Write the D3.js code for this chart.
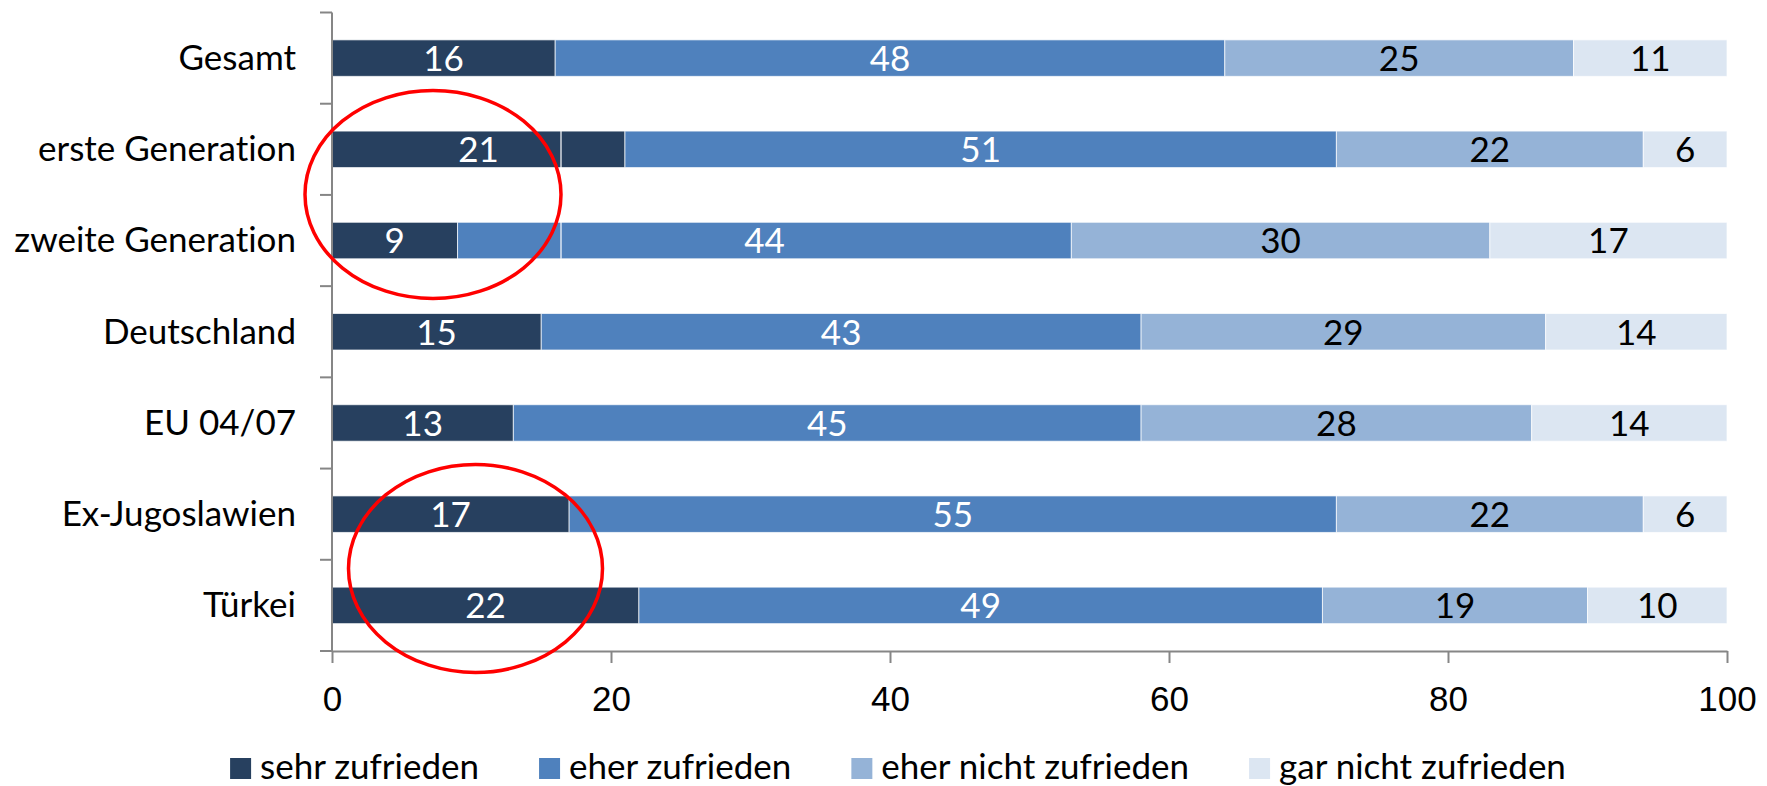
<!doctype html>
<html lang="de">
	<head>
		<meta charset="utf-8" />
		<title>Zufriedenheit nach Generation und Herkunft</title>
		<script src="https://cdn.jsdelivr.net/npm/d3@7"></script>
		<style>
			html,
			body {
				margin: 0;
				padding: 0;
				background: #fff;
			}
			svg {
				display: block;
				font-family: Lato, "Open Sans", sans-serif;
				font-variant-ligatures: none;
			}
		</style>
	</head>
	<body>
		<div id="chart"></div>
		<script>
			// data (Deutschland adds up to 101, the bar is cut at 100 like in the original)
			const categories = ["Gesamt", "erste Generation", "zweite Generation", "Deutschland", "EU 04/07", "Ex-Jugoslawien", "Türkei"];
			const seriesNames = ["sehr zufrieden", "eher zufrieden", "eher nicht zufrieden", "gar nicht zufrieden"];
			const sehrZufrieden = [16, 21, 9, 15, 13, 17, 22];
			const eherZufrieden = [48, 51, 44, 43, 45, 55, 49];
			const eherNichtZufrieden = [25, 22, 30, 29, 28, 22, 19];
			const garNichtZufrieden = [11, 6, 17, 14, 14, 6, 10];
			const xTicks = [0, 20, 40, 60, 80, 100];

			const COLORS = ["#27405f", "#4f81bd", "#95b3d7", "#dce6f2"];
			const LABEL_COLORS = ["#fff", "#fff", "#000", "#000"];

			const WIDTH = 1767;
			const HEIGHT = 786;
			const MARGIN = { LEFT: 332, RIGHT: 40, TOP: 12.5, BOTTOM: 135 };
			const FONT_SIZE = 35;
			const AXIS_COLOR = "#868686";
			const X_MAX = 100;

			const seriesValues = [sehrZufrieden, eherZufrieden, eherNichtZufrieden, garNichtZufrieden];
			const rows = categories.map((cat, i) => {
				const row = { category: cat };
				seriesNames.forEach((name, j) => (row[name] = seriesValues[j][i]));
				return row;
			});
			const stacked = d3.stack().keys(seriesNames)(rows);

			const x = d3
				.scaleLinear()
				.domain([0, X_MAX])
				.range([MARGIN.LEFT, WIDTH - MARGIN.RIGHT]);
			const y = d3
				.scaleBand()
				.domain(categories)
				.range([MARGIN.TOP, HEIGHT - MARGIN.BOTTOM])
				.paddingInner(0.6)
				.paddingOuter(0.3);
			const clampX = (v) => x(Math.min(v, X_MAX));

			const svg = d3.select("#chart").append("svg").attr("width", WIDTH).attr("height", HEIGHT);

			// bars (cut at the axis maximum)
			const layer = svg
				.append("g")
				.selectAll("g")
				.data(stacked)
				.join("g")
				.attr("fill", (d, i) => COLORS[i]);
			layer
				.selectAll("rect")
				.data((d) => d)
				.join("rect")
				.attr("x", (d) => clampX(d[0]))
				.attr("y", (d) => y(d.data.category))
				.attr("width", (d) => clampX(d[1]) - clampX(d[0]))
				.attr("height", y.bandwidth())
				.attr("stroke", "#fff")
				.attr("stroke-opacity", 0.7)
				.attr("stroke-width", 1);

			// value labels, centred in the visible part of each segment
			layer
				.selectAll("text")
				.data((d, i) => d.map((p) => ({ p, i })))
				.join("text")
				.attr("x", ({ p }) => (clampX(p[0]) + clampX(p[1])) / 2)
				.attr("y", ({ p }) => y(p.data.category) + y.bandwidth() / 2)
				.attr("dy", "0.37em")
				.attr("text-anchor", "middle")
				.attr("font-size", FONT_SIZE)
				.attr("fill", ({ i }) => LABEL_COLORS[i])
				.text(({ p }) => p[1] - p[0]);

			// y axis: line with ticks between the categories, labels on the side
			const yAxis = svg.append("g");
			const [y0, y1] = y.range();
			yAxis.append("line").attr("x1", x(0)).attr("x2", x(0)).attr("y1", y0).attr("y2", y1).attr("stroke", AXIS_COLOR).attr("stroke-width", 2);
			yAxis
				.selectAll("line.tick")
				.data(d3.range(categories.length + 1))
				.join("line")
				.attr("class", "tick")
				.attr("x1", x(0) - 12)
				.attr("x2", x(0))
				.attr("y1", (i) => y0 + i * y.step())
				.attr("y2", (i) => y0 + i * y.step())
				.attr("stroke", AXIS_COLOR)
				.attr("stroke-width", 2);
			yAxis
				.selectAll("text")
				.data(categories)
				.join("text")
				.attr("x", x(0) - 36)
				.attr("y", (d) => y(d) + y.bandwidth() / 2)
				.attr("dy", "0.34em")
				.attr("text-anchor", "end")
				.attr("font-size", FONT_SIZE)
				.attr("fill", "#000")
				.text((d) => d);

			// x axis
			const xAxis = svg
				.append("g")
				.attr("transform", `translate(0,${y1})`)
				.call(d3.axisBottom(x).tickValues(xTicks).tickSize(12).tickSizeOuter(0).tickPadding(23));
			xAxis.selectAll("path, line").attr("stroke", AXIS_COLOR).attr("stroke-width", 2);
			xAxis.selectAll("text").attr("font-size", FONT_SIZE).attr("font-family", null).attr("fill", "#000");

			// legend, centred under the chart
			const legend = svg.append("g").attr("transform", "translate(0,779)");
			const items = legend.selectAll("g").data(seriesNames).join("g");
			items
				.append("rect")
				.attr("y", -21)
				.attr("width", 21)
				.attr("height", 21)
				.attr("fill", (d, i) => COLORS[i]);
			items
				.append("text")
				.attr("x", 30)
				.attr("font-size", FONT_SIZE)
				.attr("fill", "#000")
				.text((d) => d);
			const widths = [];
			items.each(function () {
				widths.push(this.getBBox().width);
			});
			const gap = 60;
			const total = d3.sum(widths) + gap * (widths.length - 1);
			let offset = 898 - total / 2;
			items.attr("transform", (d, i) => {
				const tx = offset;
				offset += widths[i] + gap;
				return `translate(${tx},0)`;
			});

			// red hand-drawn circles from the original slide
			const marks = svg.append("g").attr("fill", "none");
			marks
				.append("line")
				.attr("x1", 561)
				.attr("x2", 561)
				.attr("y1", y("erste Generation"))
				.attr("y2", y("zweite Generation") + y.bandwidth())
				.attr("stroke", "#fff")
				.attr("stroke-opacity", 0.8)
				.attr("stroke-width", 1.5);
			marks.append("ellipse").attr("cx", 433).attr("cy", 194.5).attr("rx", 128).attr("ry", 104).attr("stroke", "#f00").attr("stroke-width", 3.5);
			marks.append("ellipse").attr("cx", 475.5).attr("cy", 568.5).attr("rx", 127).attr("ry", 104).attr("stroke", "#f00").attr("stroke-width", 3.5);
		</script>
	</body>
</html>
